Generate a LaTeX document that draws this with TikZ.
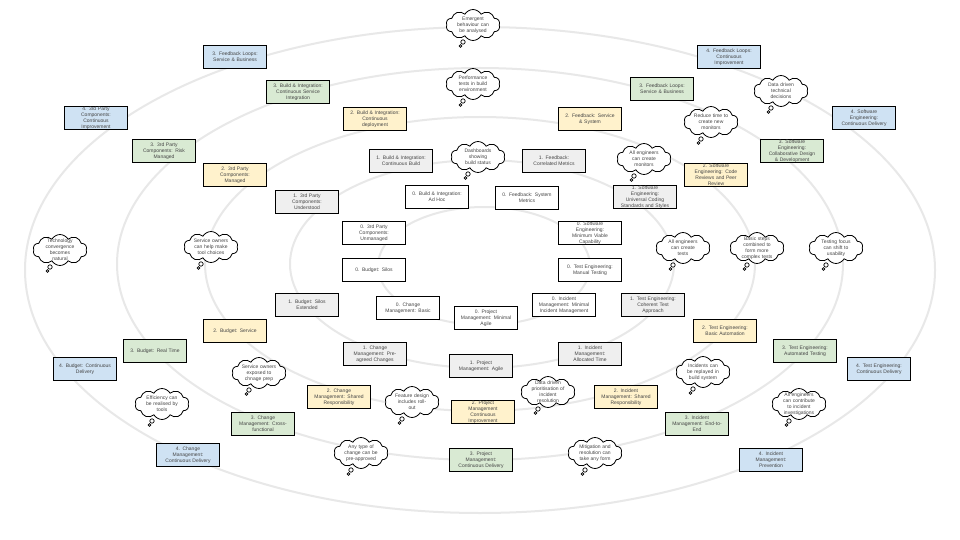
\documentclass[tikz,border=0pt]{standalone}
\usepackage{fontspec}
\setmainfont{Liberation Sans}
\usetikzlibrary{shapes.symbols}

\definecolor{lvfour}{HTML}{CFE2F3}
\definecolor{lvthree}{HTML}{D9EAD3}
\definecolor{lvtwo}{HTML}{FFF2CC}
\definecolor{lvone}{HTML}{EFEFEF}
\definecolor{ringcol}{HTML}{E8E8E8}
\definecolor{txt}{HTML}{454545}

\tikzset{
  ring/.style={draw=ringcol, line width=2pt},
  stage/.style={draw=black, line width=0.9pt, minimum width=63pt, minimum height=23pt,
    text width=60pt, align=center, inner sep=0pt, text=txt,
    font=\fontsize{5}{6}\selectfont},
  lzero/.style={stage, fill=white},
  lone/.style={stage, fill=lvone},
  ltwo/.style={stage, fill=lvtwo},
  lthree/.style={stage, fill=lvthree},
  lfour/.style={stage, fill=lvfour},
  puff/.style={cloud, cloud puffs=10, cloud puff arc=120, cloud ignores aspect,
    draw=black, line width=0.8pt, fill=white, minimum width=54pt, minimum height=31pt,
    inner sep=0pt},
  puffnote/.style={text width=48pt, align=center, inner sep=0pt, text=txt,
    font=\fontsize{5}{6}\selectfont},
  pufftail/.style={draw=black, line width=0.7pt, fill=white},
}

% thought bubble: name, centre, text
\newcommand\musing[3]{%
  \node[puff] (#1) at (#2) {};
  \node[puffnote] (#1-t) at (#1.center) {#3};
  \draw[pufftail] ([shift={(-10,17)}]#1.center) circle (2.2pt);
  \draw[pufftail] ([shift={(-12.5,21)}]#1.center) circle (1.3pt);
}

\begin{document}
\begin{tikzpicture}[x=1pt,y=-1pt]
\fill[white] (0,0) rectangle (960,540);
\useasboundingbox (0,0) rectangle (960,540);

% maturity rings
\draw[ring] (480,270) ellipse [x radius=455pt, y radius=243pt];
\draw[ring] (480,264) ellipse [x radius=363pt, y radius=196pt];
\draw[ring] (480,264) ellipse [x radius=275pt, y radius=147pt];
\draw[ring] (482,264) ellipse [x radius=192pt, y radius=104pt];
\draw[ring] (484,266) ellipse [x radius=106pt, y radius=59pt];

% level 4
\node[lfour] (fbq) at (235,57) {3. Feedback Loops:\\Service \& Business};
\node[lfour] (tp4) at (96,118) {4. 3rd Party\\Components:\\Continuous\\Improvement};
\node[lfour] (fb4) at (729,57) {4. Feedback Loops:\\Continuous\\Improvement};
\node[lfour] (se4) at (864,118) {4. Software\\Engineering:\\Continuous Delivery};
\node[lfour] (bu4) at (85,369) {4. Budget: Continuous\\Delivery};
\node[lfour] (cm4) at (188,455) {4. Change\\Management:\\Continuous Delivery};
\node[lfour] (im4) at (771,460) {4. Incident\\Management:\\Prevention};
\node[lfour] (te4) at (879,369) {4. Test Engineering:\\Continuous Delivery};

% level 3
\node[lthree] (bi3) at (298,92) {3. Build \& Integration:\\Continuous Service\\Integration};
\node[lthree] (tp3) at (164,151) {3. 3rd Party\\Components: Risk\\Managed};
\node[lthree] (fb3) at (662,89) {3. Feedback Loops:\\Service \& Business};
\node[lthree] (se3) at (792,151) {3. Software\\Engineering:\\Collaborative Design\\\& Development};
\node[lthree] (bu3) at (155,351) {3. Budget: Real Time};
\node[lthree] (cm3) at (263,424) {3. Change\\Management: Cross-\\functional};
\node[lthree] (pm3) at (481,460) {3. Project\\Management:\\Continuous Delivery};
\node[lthree] (im3) at (697,424) {3. Incident\\Management: End-to-\\End};
\node[lthree] (te3) at (805,351) {3. Test Engineering:\\Automated Testing};

% level 2
\node[ltwo] (bi2) at (375,119) {2. Build \& Integration:\\Continuous\\deployment};
\node[ltwo] (fb2) at (590,119) {2. Feedback: Service\\\& System};
\node[ltwo] (tp2) at (235,175) {2. 3rd Party\\Components:\\Managed};
\node[ltwo] (se2) at (716,175) {2. Software\\Engineering: Code\\Reviews and Peer\\Review};
\node[ltwo] (bu2) at (235,331) {2. Budget: Service};
\node[ltwo] (te2) at (725,331) {2. Test Engineering:\\Basic Automation};
\node[ltwo] (cm2) at (339,397) {2. Change\\Management: Shared\\Responsibility};
\node[ltwo] (pm2) at (483,412) {2. Project\\Management\\Continuous\\Improvement};
\node[ltwo] (im2) at (626,397) {2. Incident\\Management: Shared\\Responsibility};

% level 1
\node[lone] (bi1) at (401,161) {1. Build \& Integration:\\Continuous Build};
\node[lone] (fb1) at (554,161) {1. Feedback:\\Correlated Metrics};
\node[lone] (tp1) at (307,202) {1. 3rd Party\\Components:\\Understood};
\node[lone] (se1) at (645,197) {1. Software\\Engineering:\\Universal Coding\\Standards and Styles};
\node[lone] (bu1) at (307,305) {1. Budget: Silos\\Extended};
\node[lone] (te1) at (653,305) {1. Test Engineering:\\Coherent Test\\Approach};
\node[lone] (cm1) at (375,354) {1. Change\\Management: Pre-\\agreed Changes};
\node[lone] (pm1) at (481,366) {1. Project\\Management: Agile};
\node[lone] (im1) at (590,354) {1. Incident\\Management:\\Allocated Time};

% level 0
\node[lzero] (bi0) at (437,197) {0. Build \& Integration:\\Ad Hoc};
\node[lzero] (fb0) at (527,198) {0. Feedback: System\\Metrics};
\node[lzero] (tp0) at (374,233) {0. 3rd Party\\Components:\\Unmanaged};
\node[lzero] (se0) at (590,233) {0. Software\\Engineering:\\Minimum Viable\\Capability};
\node[lzero] (bu0) at (374,270) {0. Budget: Silos};
\node[lzero] (te0) at (590,270) {0. Test Engineering:\\Manual Testing};
\node[lzero] (cm0) at (408,308) {0. Change\\Management: Basic};
\node[lzero] (pm0) at (486,318) {0. Project\\Management: Minimal\\Agile};
\node[lzero] (im0) at (564,305) {0. Incident\\Management: Minimal\\Incident Management};

% thought bubbles
\musing{emerge}{473,25}{Emergent\\behaviour can\\be analysed}
\musing{perf}{473,84}{Performance\\tests in build\\environment}
\musing{dash}{478,157}{Dashboards\\showing\\build status}
\musing{monall}{644,159}{All engineers\\can create\\monitors}
\musing{reduce}{711,122}{Reduce time to\\create new\\monitors}
\musing{datadec}{781,91}{Data driven\\technical\\decisions}
\musing{techconv}{60,250}{Technology\\convergence\\becomes\\natural}
\musing{svchelp}{211,247}{Service owners\\can help make\\tool choices}
\musing{testsall}{683,248}{All engineers\\can create\\tests}
\musing{basic}{757,248}{Basic steps\\combined to\\form more\\complex tests}
\musing{usab}{836,248}{Testing focus\\can shift to\\usability}
\musing{svcexp}{259,373}{Service owners\\exposed to\\chnage prep}
\musing{effic}{162,404}{Efficiency can\\be realised by\\tools}
\musing{feature}{412,402}{Feature design\\includes roll-\\out}
\musing{anytype}{361,453}{Any type of\\change can be\\pre-approved}
\musing{dataprio}{548,392}{Data driven\\prioritisation of\\incident\\resolution}
\musing{mitig}{595,453}{Mitigation and\\resolution can\\take any form}
\musing{replay}{703,372}{Incidents can\\be replayed in\\build system}
\musing{contrib}{799,404}{All engineers\\can contribute\\to incident\\investigations}
\end{tikzpicture}
\end{document}
